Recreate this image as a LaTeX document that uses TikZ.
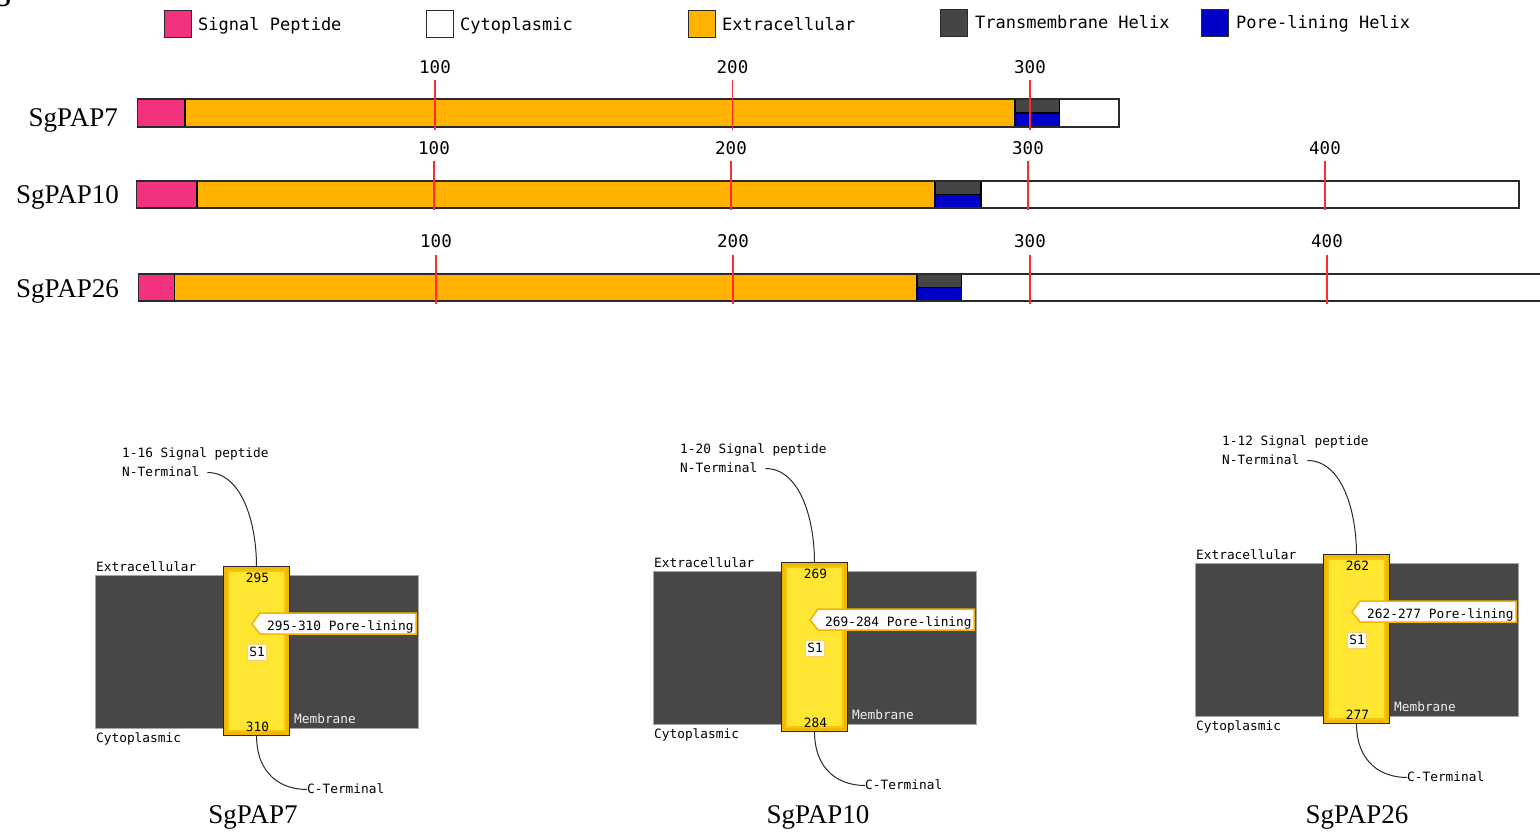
\documentclass[tikz,border=0pt]{standalone}
\usepackage{fontspec}
\setmainfont{Liberation Serif}
\newfontfamily\pixfont{DejaVu Sans Mono}
\definecolor{sigpink}{HTML}{F2317F}
\definecolor{extorange}{HTML}{FFB300}
\definecolor{tmgray}{HTML}{454545}
\definecolor{poreblue}{HTML}{0000C8}
\definecolor{tickred}{HTML}{FF2A2A}
\definecolor{helixyel}{HTML}{FFE633}
\definecolor{helixedge}{HTML}{F2B700}
\definecolor{tagorange}{HTML}{F7B200}
\definecolor{memgray}{HTML}{474747}
\definecolor{outl}{HTML}{2A2A2A}

\newcommand\tmpanel[6]{%
\begin{scope}[shift={(#2,#3)}]
  \node[membrane] (m#1) at (32.5,84.5) {};
  \node[helix] (h#1) at (32.5,84) {};
  \draw[helixedge!70!helixyel, line width=2pt] ([shift={(4pt,-4pt)}]h#1.north west) rectangle ([shift={(-4pt,4pt)}]h#1.south east);
  \draw[helixedge, line width=3pt] ([shift={(1.5pt,-1.5pt)}]h#1.north west) rectangle ([shift={(-1.5pt,1.5pt)}]h#1.south east);
  \draw[outl, line width=1.3pt] (h#1.north west) rectangle (h#1.south east);
  \node[sm, anchor=base west] (sg#1) at (-102,-110) {#4 Signal peptide};
  \node[sm, anchor=base west] (nt#1) at (-102,-91) {N-Terminal};
  \node[sm, anchor=base west] (ex#1) at (-128,4) {Extracellular};
  \node[sm, anchor=base west] (cy#1) at (-128,175) {Cytoplasmic};
  \node[sm, anchor=base] (st#1) at (33.5,15.5) {#5};
  \node[sm, anchor=base] (en#1) at (33.5,164) {#6};
  \filldraw[fill=white, draw=tagorange, line width=1.5pt] (28,57) -- (36,46) -- (192,46) -- (192,67) -- (36,67) -- cycle;
  \node[sm, anchor=base west] (pl#1) at (43,63.5) {#5-#6 Pore-lining};
  \node[sm, anchor=base, fill=white, draw=helixedge!60, line width=0.8pt, inner sep=2pt] (s#1) at (33,89) {S1};
  \node[sm, anchor=base west, text=white!88!gray] (mb#1) at (70,156) {Membrane};
  \node[sm, anchor=base west] (ct#1) at (83,226) {C-Terminal};
  \draw[conn, shorten <=8pt] (nt#1.east) .. controls +(42,0) and +(0,-45) .. (h#1.north);
  \draw[conn] (h#1.south) .. controls +(0,40) and +(-25,0) .. (ct#1.west);
\end{scope}}

\begin{document}
\begin{tikzpicture}[x=1pt,y=-1pt,
  legtxt/.style={font=\pixfont\fontsize{17}{20}\selectfont, anchor=west, inner sep=0, text height=12pt, text depth=3pt},
  lgsq/.style={draw=outl, line width=1.2pt, minimum size=27pt, inner sep=0},
  rul/.style={font=\pixfont\fontsize{17.5}{20}\selectfont, inner sep=0},
  sm/.style={font=\pixfont\fontsize{12.8}{15}\selectfont, inner sep=0, text height=9.5pt, text depth=2.5pt},
  big/.style={font=\fontsize{27}{30}\selectfont, inner sep=0},
  barline/.style={draw=outl, line width=1.6pt},
  seg/.style={draw=black, line width=1.4pt},
  tick/.style={draw=tickred, line width=1.8pt},
  membrane/.style={fill=memgray, draw=gray!70, line width=1pt, minimum width=323pt, minimum height=153pt, inner sep=0},
  helix/.style={fill=helixyel, minimum width=65pt, minimum height=168pt, inner sep=0},
  conn/.style={draw=outl, line width=1pt}]
\useasboundingbox[fill=white] (0,0) rectangle (1540,832);

% cut-off panel letter
\node[font=\bfseries\fontsize{30}{30}\selectfont, anchor=base, inner sep=0] (panelS) at (3,7) {S};

% legend
\node[lgsq, fill=sigpink] (lq1) at (178,24) {};
\node[legtxt] (lt1) at (198,26) {Signal Peptide};
\node[lgsq, fill=white] (lq2) at (440,24) {};
\node[legtxt] (lt2) at (460,26) {Cytoplasmic};
\node[lgsq, fill=extorange] (lq3) at (702,24) {};
\node[legtxt] (lt3) at (722,26) {Extracellular};
\node[lgsq, fill=tmgray] (lq4) at (954,23) {};
\node[legtxt] (lt4) at (975,24.5) {Transmembrane Helix};
\node[lgsq, fill=poreblue] (lq5) at (1215,23) {};
\node[legtxt] (lt5) at (1236,24.5) {Pore-lining Helix};

% row 1 : SgPAP7
\node[big, anchor=base east] (rl1) at (118,127) {SgPAP7};
\fill[sigpink] (137.5,99) rectangle (185,127);
\fill[extorange] (185,99) rectangle (1015,127);
\fill[tmgray] (1015,99) rectangle (1059.5,113);
\fill[poreblue] (1015,113) rectangle (1059.5,127);
\fill[white] (1059.5,99) rectangle (1119,127);
\draw[seg] (185,99)--(185,127) (1015,99)--(1015,127) (1059.5,99)--(1059.5,127) (1015,113)--(1059.5,113);
\draw[barline] (137.5,99) rectangle (1119,127);
\foreach \x/\l in {435/100, 732.5/200, 1030/300}{
  \draw[tick] (\x,80)--(\x,130);
  \node[rul] at (\x,67) {\l};}

% row 2 : SgPAP10
\node[big, anchor=base east] (rl2) at (119,204) {SgPAP10};
\fill[sigpink] (136.5,181) rectangle (197,208);
\fill[extorange] (197,181) rectangle (935,208);
\fill[tmgray] (935,181) rectangle (981,194.5);
\fill[poreblue] (935,194.5) rectangle (981,208);
\fill[white] (981,181) rectangle (1519,208);
\draw[seg] (197,181)--(197,208) (935,181)--(935,208) (981,181)--(981,208) (935,194.5)--(981,194.5);
\draw[barline] (136.5,181) rectangle (1519,208);
\foreach \x/\l in {434/100, 731/200, 1028/300, 1325/400}{
  \draw[tick] (\x,161)--(\x,210);
  \node[rul] at (\x,148) {\l};}

% row 3 : SgPAP26
\node[big, anchor=base east] (rl3) at (119,297) {SgPAP26};
\fill[sigpink] (138.5,274) rectangle (174.5,301);
\fill[extorange] (174.5,274) rectangle (917,301);
\fill[tmgray] (917,274) rectangle (961.5,287.5);
\fill[poreblue] (917,287.5) rectangle (961.5,301);
\fill[white] (961.5,274) rectangle (1560,301);
\draw[seg] (174.5,274)--(174.5,301) (917,274)--(917,301) (961.5,274)--(961.5,301) (917,287.5)--(961.5,287.5);
\draw[barline] (138.5,274) rectangle (1560,301);
\foreach \x/\l in {436/100, 733/200, 1030/300, 1327/400}{
  \draw[tick] (\x,255)--(\x,304);
  \node[rul] at (\x,241) {\l};}

% topology panels
\tmpanel{a}{224}{567}{1-16}{295}{310}
\tmpanel{b}{782}{563}{1-20}{269}{284}
\tmpanel{c}{1324}{555}{1-12}{262}{277}

\node[big, anchor=base] (na) at (253,823) {SgPAP7};
\node[big, anchor=base] (nb) at (818,823) {SgPAP10};
\node[big, anchor=base] (nc) at (1357,823) {SgPAP26};
\end{tikzpicture}
\end{document}
